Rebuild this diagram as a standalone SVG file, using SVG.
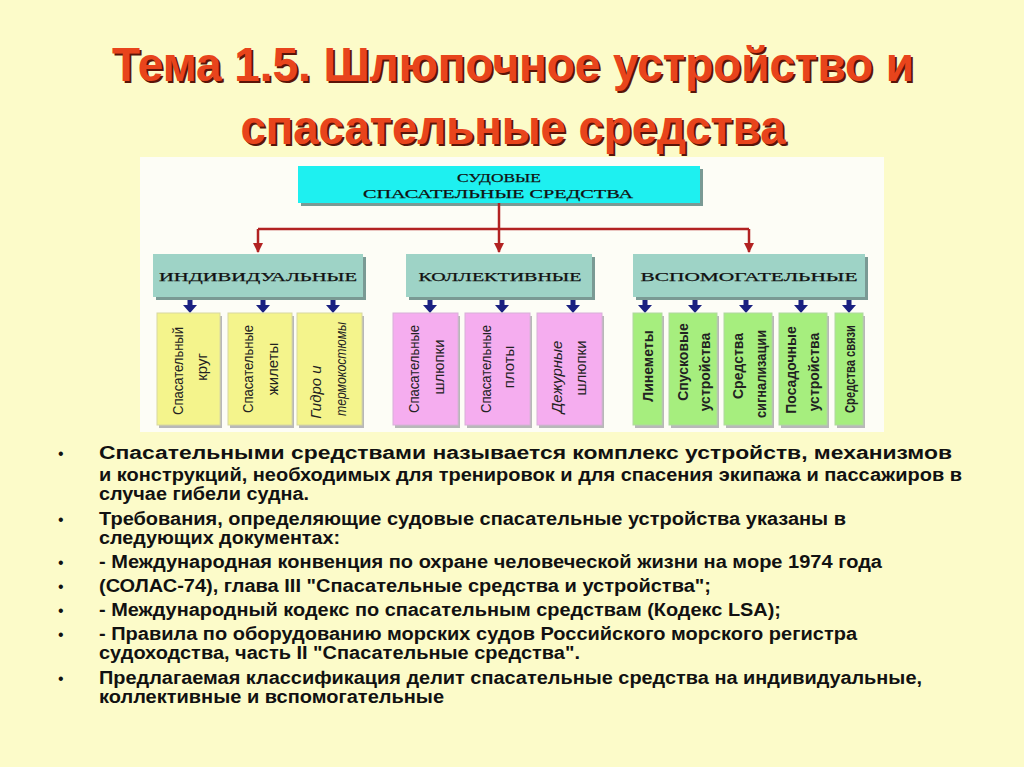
<svg xmlns="http://www.w3.org/2000/svg" width="1024" height="767" viewBox="0 0 1024 767">
<defs>
<style>
.title{font-family:"Liberation Sans Narrow","Liberation Sans",Arial,sans-serif;font-weight:bold;font-size:48px;fill:#E8441C}
.tshadow{font-family:"Liberation Sans Narrow","Liberation Sans",Arial,sans-serif;font-weight:bold;font-size:48px;fill:#5a1408}
.cat{font-family:"Liberation Serif","DejaVu Serif",serif;font-size:13px;fill:#111;text-anchor:middle;dominant-baseline:central;stroke:#111;stroke-width:0.25}
.catbox{fill:#9ED3C6}
.shadow{fill:#7a9a94}
.leafy{fill:#F4F48C;stroke:#d8d8a0;stroke-width:1}
.leafp{fill:#F5ADEF;stroke:#d8b0d8;stroke-width:1}
.leafg{fill:#A6EE7E;stroke:#b0d8a0;stroke-width:1}
.lshadow{fill:#b8b8b8}
.lt{font-family:"Liberation Sans Narrow","Liberation Sans",Arial,sans-serif;font-size:15px;fill:#222;text-anchor:middle;dominant-baseline:central}
.ltb{font-family:"Liberation Sans Narrow","Liberation Sans",Arial,sans-serif;font-size:14px;font-weight:bold;fill:#222;text-anchor:middle;dominant-baseline:central}
.body{font-family:"Liberation Sans",Arial,sans-serif;font-weight:bold;font-size:17.5px;fill:#111}
.bul{font-family:"Liberation Sans",Arial,sans-serif;font-size:16px;fill:#111}
.red{stroke:#B22222;stroke-width:2.5;fill:none}
.blue{fill:#1a2080}
</style>
<marker id="ra" viewBox="0 0 10 10" refX="9" refY="5" markerWidth="4" markerHeight="4" orient="auto">
<path d="M0,0 L10,5 L0,10 z" fill="#B22222"/>
</marker>
<symbol id="barrow" viewBox="0 0 14 16" overflow="visible">
<path d="M4.5,0 H9.5 V7 H14 L7,15 L0,7 H4.5 z"/>
</symbol>
</defs>
<rect x="0" y="0" width="1024" height="767" fill="#FCFBC9"/>

<!-- Title -->
<g id="title">
<text class="tshadow" x="515" y="83" text-anchor="middle" textLength="802" lengthAdjust="spacingAndGlyphs">Тема 1.5. Шлюпочное устройство и</text>
<text class="title" x="513" y="81" text-anchor="middle" textLength="802" lengthAdjust="spacingAndGlyphs">Тема 1.5. Шлюпочное устройство и</text>
<text class="tshadow" x="515" y="146" text-anchor="middle" textLength="545" lengthAdjust="spacingAndGlyphs">спасательные средства</text>
<text class="title" x="513" y="144" text-anchor="middle" textLength="545" lengthAdjust="spacingAndGlyphs">спасательные средства</text>
</g>

<!-- Diagram panel -->
<rect x="140" y="157" width="744" height="275" fill="#FDFDF6"/>

<g id="root">
<rect x="301" y="169" width="402" height="37" class="shadow"/>
<rect x="298" y="166" width="402" height="37" fill="#1EF0F0"/>
<text class="cat" x="499" y="177" textLength="84" lengthAdjust="spacingAndGlyphs">СУДОВЫЕ</text>
<text class="cat" x="498" y="193" textLength="270" lengthAdjust="spacingAndGlyphs">СПАСАТЕЛЬНЫЕ СРЕДСТВА</text>
</g>

<g id="connectors">
<path class="red" d="M499,203 V229"/>
<path class="red" d="M258,229 H749"/>
<path class="red" d="M258,229 V252" marker-end="url(#ra)"/>
<path class="red" d="M499,229 V252" marker-end="url(#ra)"/>
<path class="red" d="M749,229 V252" marker-end="url(#ra)"/>
<g class="blue">
<use href="#barrow" x="183" y="298" width="14" height="16"/>
<use href="#barrow" x="256" y="298" width="14" height="16"/>
<use href="#barrow" x="326" y="298" width="14" height="16"/>
<use href="#barrow" x="423" y="298" width="14" height="16"/>
<use href="#barrow" x="495" y="298" width="14" height="16"/>
<use href="#barrow" x="566" y="298" width="14" height="16"/>
<use href="#barrow" x="638" y="298" width="14" height="16"/>
<use href="#barrow" x="688" y="298" width="14" height="16"/>
<use href="#barrow" x="739" y="298" width="14" height="16"/>
<use href="#barrow" x="794" y="298" width="14" height="16"/>
<use href="#barrow" x="842" y="298" width="14" height="16"/>
</g>
</g>

<g id="cat-individual">
<rect x="156" y="257" width="210" height="43" class="shadow"/>
<rect x="153" y="254" width="210" height="43" class="catbox"/>
<text class="cat" x="258" y="276" textLength="198" lengthAdjust="spacingAndGlyphs">ИНДИВИДУАЛЬНЫЕ</text>
</g>
<g id="cat-collective">
<rect x="409" y="257" width="186" height="43" class="shadow"/>
<rect x="406" y="254" width="186" height="43" class="catbox"/>
<text class="cat" x="500" y="276" textLength="163" lengthAdjust="spacingAndGlyphs">КОЛЛЕКТИВНЫЕ</text>
</g>
<g id="cat-auxiliary">
<rect x="636" y="257" width="232" height="43" class="shadow"/>
<rect x="633" y="254" width="232" height="43" class="catbox"/>
<text class="cat" x="749" y="276" textLength="217" lengthAdjust="spacingAndGlyphs">ВСПОМОГАТЕЛЬНЫЕ</text>
</g>

<!-- Individual leaves -->
<g id="leaf-krug">
<rect x="159" y="316" width="63" height="112" class="lshadow"/>
<rect x="157" y="313" width="63" height="112" class="leafy"/>
<text class="lt" transform="translate(177,371) rotate(-90)" textLength="88" lengthAdjust="spacingAndGlyphs">Спасательный</text>
<text class="lt" transform="translate(201,367) rotate(-90)">круг</text>
</g>
<g id="leaf-zhilety">
<rect x="230" y="316" width="64" height="112" class="lshadow"/>
<rect x="228" y="313" width="64" height="112" class="leafy"/>
<text class="lt" transform="translate(247,369) rotate(-90)" textLength="88" lengthAdjust="spacingAndGlyphs">Спасательные</text>
<text class="lt" transform="translate(272,369) rotate(-90)">жилеты</text>
</g>
<g id="leaf-gidro">
<rect x="299" y="316" width="65" height="112" class="lshadow"/>
<rect x="297" y="313" width="65" height="112" class="leafy"/>
<text class="lt" font-style="italic" transform="translate(315,392) rotate(-90)">Гидро и</text>
<text class="lt" font-style="italic" transform="translate(340,369) rotate(-90)" textLength="94" lengthAdjust="spacingAndGlyphs">термокостюмы</text>
</g>

<!-- Collective leaves -->
<g id="leaf-shlyupki">
<rect x="395" y="316" width="65" height="112" class="lshadow"/>
<rect x="393" y="313" width="65" height="112" class="leafp"/>
<text class="lt" transform="translate(413,369) rotate(-90)" textLength="88" lengthAdjust="spacingAndGlyphs">Спасательные</text>
<text class="lt" transform="translate(438,367) rotate(-90)">шлюпки</text>
</g>
<g id="leaf-ploty">
<rect x="467" y="316" width="65" height="112" class="lshadow"/>
<rect x="465" y="313" width="65" height="112" class="leafp"/>
<text class="lt" transform="translate(485,369) rotate(-90)" textLength="88" lengthAdjust="spacingAndGlyphs">Спасательные</text>
<text class="lt" transform="translate(508,367) rotate(-90)">плоты</text>
</g>
<g id="leaf-dezhurnye">
<rect x="539" y="316" width="65" height="112" class="lshadow"/>
<rect x="537" y="313" width="65" height="112" class="leafp"/>
<text class="lt" font-style="italic" transform="translate(556,377) rotate(-90)">Дежурные</text>
<text class="lt" transform="translate(580,368) rotate(-90)">шлюпки</text>
</g>

<!-- Auxiliary leaves -->
<g id="leaf-linemety">
<rect x="635" y="316" width="29" height="112" class="lshadow"/>
<rect x="633" y="313" width="29" height="112" class="leafg"/>
<text class="ltb" transform="translate(648,366) rotate(-90)">Линеметы</text>
</g>
<g id="leaf-spuskovye">
<rect x="671" y="316" width="48" height="112" class="lshadow"/>
<rect x="669" y="313" width="48" height="112" class="leafg"/>
<text class="ltb" transform="translate(683,362) rotate(-90)">Спусковые</text>
<text class="ltb" transform="translate(705,372) rotate(-90)">устройства</text>
</g>
<g id="leaf-signal">
<rect x="726" y="316" width="48" height="112" class="lshadow"/>
<rect x="724" y="313" width="48" height="112" class="leafg"/>
<text class="ltb" transform="translate(738,366) rotate(-90)">Средства</text>
<text class="ltb" transform="translate(761,374) rotate(-90)" textLength="88" lengthAdjust="spacingAndGlyphs">сигнализации</text>
</g>
<g id="leaf-posadochnye">
<rect x="781" y="316" width="48" height="112" class="lshadow"/>
<rect x="779" y="313" width="48" height="112" class="leafg"/>
<text class="ltb" transform="translate(791,370) rotate(-90)">Посадочные</text>
<text class="ltb" transform="translate(814,372) rotate(-90)">устройства</text>
</g>
<g id="leaf-svyaz">
<rect x="837" y="316" width="28" height="112" class="lshadow"/>
<rect x="835" y="313" width="28" height="112" class="leafg"/>
<text class="ltb" transform="translate(850,369) rotate(-90)" textLength="88" lengthAdjust="spacingAndGlyphs">Средства связи</text>
</g>

<!-- Bullet text -->
<g id="bullets">
<text class="bul" x="58" y="459">•</text>
<text class="body" x="99" y="459" font-size="19" textLength="853" lengthAdjust="spacingAndGlyphs">Спасательными средствами называется комплекс устройств, механизмов</text>
<text class="body" x="99" y="481" textLength="863" lengthAdjust="spacingAndGlyphs">и конструкций, необходимых для тренировок и для спасения экипажа и пассажиров в</text>
<text class="body" x="99" y="500" textLength="210" lengthAdjust="spacingAndGlyphs">случае гибели судна.</text>
<text class="bul" x="58" y="525">•</text>
<text class="body" x="99" y="525" textLength="747" lengthAdjust="spacingAndGlyphs">Требования, определяющие судовые спасательные устройства указаны в</text>
<text class="body" x="99" y="544" textLength="241" lengthAdjust="spacingAndGlyphs">следующих документах:</text>
<text class="bul" x="58" y="568">•</text>
<text class="body" x="99" y="568" textLength="783" lengthAdjust="spacingAndGlyphs">- Международная конвенция по охране человеческой жизни на море 1974 года</text>
<text class="bul" x="58" y="592">•</text>
<text class="body" x="99" y="592" textLength="612" lengthAdjust="spacingAndGlyphs">(СОЛАС-74), глава III "Спасательные средства и устройства";</text>
<text class="bul" x="58" y="616">•</text>
<text class="body" x="99" y="616" textLength="682" lengthAdjust="spacingAndGlyphs">- Международный кодекс по спасательным средствам (Кодекс LSA);</text>
<text class="bul" x="58" y="640">•</text>
<text class="body" x="99" y="640" textLength="758" lengthAdjust="spacingAndGlyphs">- Правила по оборудованию морских судов Российского морского регистра</text>
<text class="body" x="99" y="659" textLength="481" lengthAdjust="spacingAndGlyphs">судоходства, часть II "Спасательные средства".</text>
<text class="bul" x="58" y="684">•</text>
<text class="body" x="99" y="684" textLength="823" lengthAdjust="spacingAndGlyphs">Предлагаемая классификация делит спасательные средства на индивидуальные,</text>
<text class="body" x="99" y="703" textLength="345" lengthAdjust="spacingAndGlyphs">коллективные и вспомогательные</text>
</g>
</svg>
